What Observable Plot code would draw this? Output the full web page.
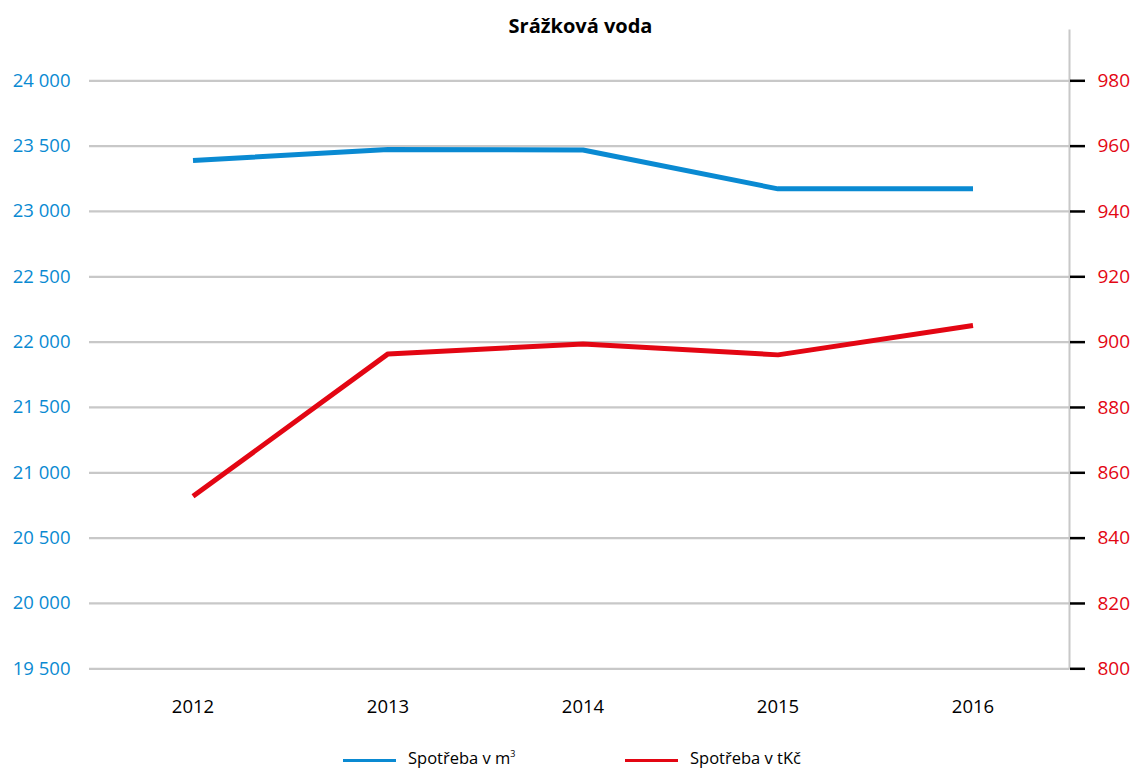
<!DOCTYPE html>
<html>
<head>
<meta charset="utf-8">
<script src="https://cdn.jsdelivr.net/npm/d3@7"></script>
<script src="https://cdn.jsdelivr.net/npm/@observablehq/plot@0.6"></script>
<style>
  html, body { margin: 0; padding: 0; background: #fff; }
  body { width: 1135px; height: 771px; position: relative; overflow: hidden; font-family: "Open Sans", sans-serif; }
  #title { position: absolute; left: 0; width: 1161px; top: 13px; text-align: center; font-weight: bold; font-size: 20px; color: #000; line-height: 26px; }
  #chart { position: absolute; left: 0; top: 0; }
  .leg { position: absolute; top: 747px; height: 22px; display: flex; align-items: center; font-size: 16.5px; color: #000; line-height: 20px; }
  .leg .sw { width: 53px; height: 3.5px; margin-right: 12px; margin-top: 5px; }
  .leg sup { font-size: 9px; vertical-align: 7px; line-height: 0; }
</style>
</head>
<body>
<div id="chart"></div>
<div id="title">Srážková voda</div>
<div class="leg" style="left:343px"><span class="sw" style="background:#0a8ad2"></span><span>Spotřeba v m<sup>3</sup></span></div>
<div class="leg" style="left:625px"><span class="sw" style="background:#e30613"></span><span>Spotřeba v tKč</span></div>
<script>
const years = ["2012", "2013", "2014", "2015", "2016"];
const volumeM3 = [23390, 23474, 23470, 23173, 23173];
const costTKc = [852.8, 896.4, 899.4, 896.1, 905.1];
const leftTicks = [19500, 20000, 20500, 21000, 21500, 22000, 22500, 23000, 23500, 24000];
const rightTicks = [800, 820, 840, 860, 880, 900, 920, 940, 960, 980];

const BLUE = "#0a8ad2";
const RED = "#e30613";

// map right-axis (tKč) onto left-axis units
const L0 = 19500, L1 = 24000, R0 = 800, R1 = 980;
const toLeft = v => L0 + (v - R0) * (L1 - L0) / (R1 - R0);
const fromLeft = v => R0 + (v - L0) * (R1 - R0) / (L1 - L0);

const blueData = years.map((y, i) => ({year: y, value: volumeM3[i]}));
const redData = years.map((y, i) => ({year: y, value: toLeft(costTKc[i])}));

const fmt = d => d3.format(",")(d).replace(/,/g, " ");

const chart = Plot.plot({
  width: 1135,
  height: 735,
  marginLeft: 89,
  marginRight: 66,
  marginTop: 30,
  marginBottom: 67,
  style: {fontFamily: "Open Sans", fontSize: "18.5px", background: "transparent"},
  x: {type: "band", domain: years, padding: 0, range: [93, 1072]},
  y: {domain: [L0, L1], range: [668.3, 80.3]},
  marks: [
    Plot.ruleY(leftTicks, {stroke: "#c8c8c8", strokeWidth: 2.3}),
    Plot.frame({anchor: "right", stroke: "#c8c8c8", strokeWidth: 2}),
    Plot.axisY(leftTicks, {anchor: "left", tickSize: 0, tickPadding: 19, fill: BLUE, tickFormat: fmt, label: null}),
    Plot.axisY(rightTicks.map(toLeft), {anchor: "right", tickSize: 15, tickPadding: 13, stroke: "#000", strokeWidth: 2.5, fill: RED, fontSize: "19px", tickFormat: d => String(Math.round(fromLeft(d))), label: null}),
    Plot.axisX({anchor: "bottom", tickSize: 0, tickPadding: 31, fill: "#000", label: null}),
    Plot.line(blueData, {x: "year", y: "value", stroke: BLUE, strokeWidth: 5, strokeLinecap: "butt", strokeLinejoin: "miter"}),
    Plot.line(redData, {x: "year", y: "value", stroke: RED, strokeWidth: 5, strokeLinecap: "butt", strokeLinejoin: "miter"})
  ]
});
document.getElementById("chart").appendChild(chart);
</script>
</body>
</html>
